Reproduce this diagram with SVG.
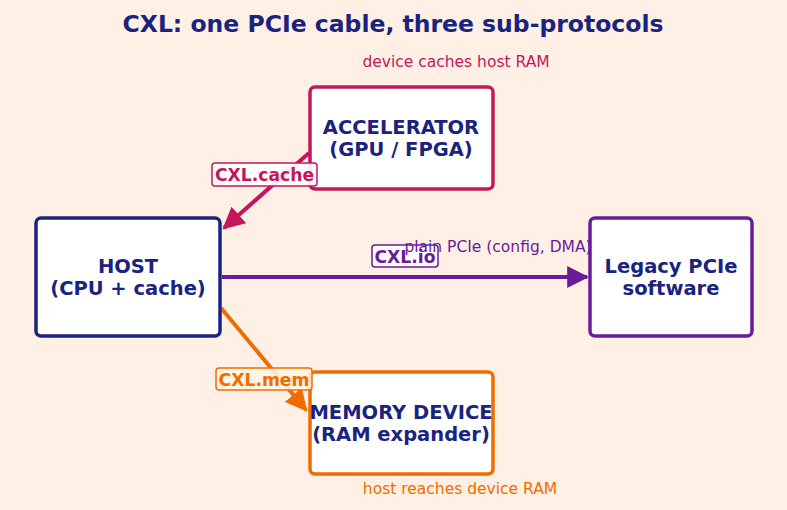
<svg xmlns="http://www.w3.org/2000/svg" width="787" height="510" viewBox="0 0 787 510">
<defs>
<style>
.t{font-family:"DejaVu Sans",sans-serif;font-weight:bold;fill:#1a237e;text-anchor:middle}
.n{font-size:19.5px}
.box{fill:#fff;stroke-width:3.5}
.lbl{font-family:"DejaVu Sans",sans-serif;font-weight:bold;font-size:17.2px;text-anchor:middle}
.ann{font-family:"DejaVu Sans",sans-serif;font-size:15.5px;text-anchor:middle}
.ln{fill:none;stroke-width:4}
</style>
<marker id="mc" viewBox="0 0 10 10" refX="9" refY="5" markerWidth="5.5" markerHeight="5.5" orient="auto" markerUnits="strokeWidth"><path d="M0,0L10,5L0,10z" fill="#c2185b"/></marker>
<marker id="mi" viewBox="0 0 10 10" refX="9" refY="5" markerWidth="5.5" markerHeight="5.5" orient="auto" markerUnits="strokeWidth"><path d="M0,0L10,5L0,10z" fill="#6a1b9a"/></marker>
<marker id="mm" viewBox="0 0 10 10" refX="9" refY="5" markerWidth="5.5" markerHeight="5.5" orient="auto" markerUnits="strokeWidth"><path d="M0,0L10,5L0,10z" fill="#ef6c00"/></marker>
</defs>
<rect width="787" height="510" fill="#fef0e5"/>
<text class="t" x="393" y="32" style="font-size:23.5px">CXL: one PCIe cable, three sub-protocols</text>
<g id="connectors">
<line class="ln" x1="309" y1="153" x2="224" y2="228" stroke="#c2185b" marker-end="url(#mc)"/>
<line class="ln" x1="222" y1="277" x2="587" y2="277" stroke="#6a1b9a" marker-end="url(#mi)"/>
<line class="ln" x1="221" y1="308" x2="306" y2="410" stroke="#ef6c00" marker-end="url(#mm)"/>
</g>
<g id="host"><rect class="box" x="36" y="218" width="184" height="118" rx="5" stroke="#1a237e"/>
<text class="t n" x="128" y="273">HOST</text><text class="t n" x="128" y="295">(CPU + cache)</text></g>
<g id="accelerator"><rect class="box" x="310" y="87" width="183" height="102" rx="5" stroke="#c2185b"/>
<text class="t n" x="401" y="134">ACCELERATOR</text><text class="t n" x="401" y="156">(GPU / FPGA)</text></g>
<g id="memory"><rect class="box" x="310" y="372" width="183" height="102" rx="5" stroke="#ef6c00"/>
<text class="t n" x="401" y="419">MEMORY DEVICE</text><text class="t n" x="401" y="441">(RAM expander)</text></g>
<g id="label-cache"><rect x="212" y="163" width="105" height="23" rx="3" fill="#fff" fill-opacity="0.9" stroke="#c2185b" stroke-width="1.5"/>
<text class="lbl" x="264.5" y="180.5" fill="#c2185b">CXL.cache</text></g>
<g id="label-io"><rect x="372" y="245" width="66" height="22" rx="3" fill="#fff" fill-opacity="0.9" stroke="#6a1b9a" stroke-width="1.5"/>
<text class="lbl" x="405" y="262.5" fill="#6a1b9a">CXL.io</text></g>
<g id="label-mem"><rect x="216" y="368" width="96" height="22" rx="3" fill="#fff3e0" fill-opacity="0.9" stroke="#ef6c00" stroke-width="1.5"/>
<text class="lbl" x="264" y="385.5" fill="#ef6c00">CXL.mem</text></g>
<text class="ann" x="456" y="67" fill="#c2185b">device caches host RAM</text>
<text class="ann" x="460" y="494" fill="#ef6c00">host reaches device RAM</text>
<text class="ann" x="498" y="252" fill="#6a1b9a">plain PCIe (config, DMA)</text>
<g id="legacy"><rect class="box" x="590" y="218" width="162" height="118" rx="5" stroke="#6a1b9a"/>
<text class="t n" x="671" y="273">Legacy PCIe</text><text class="t n" x="671" y="295">software</text></g>
</svg>
